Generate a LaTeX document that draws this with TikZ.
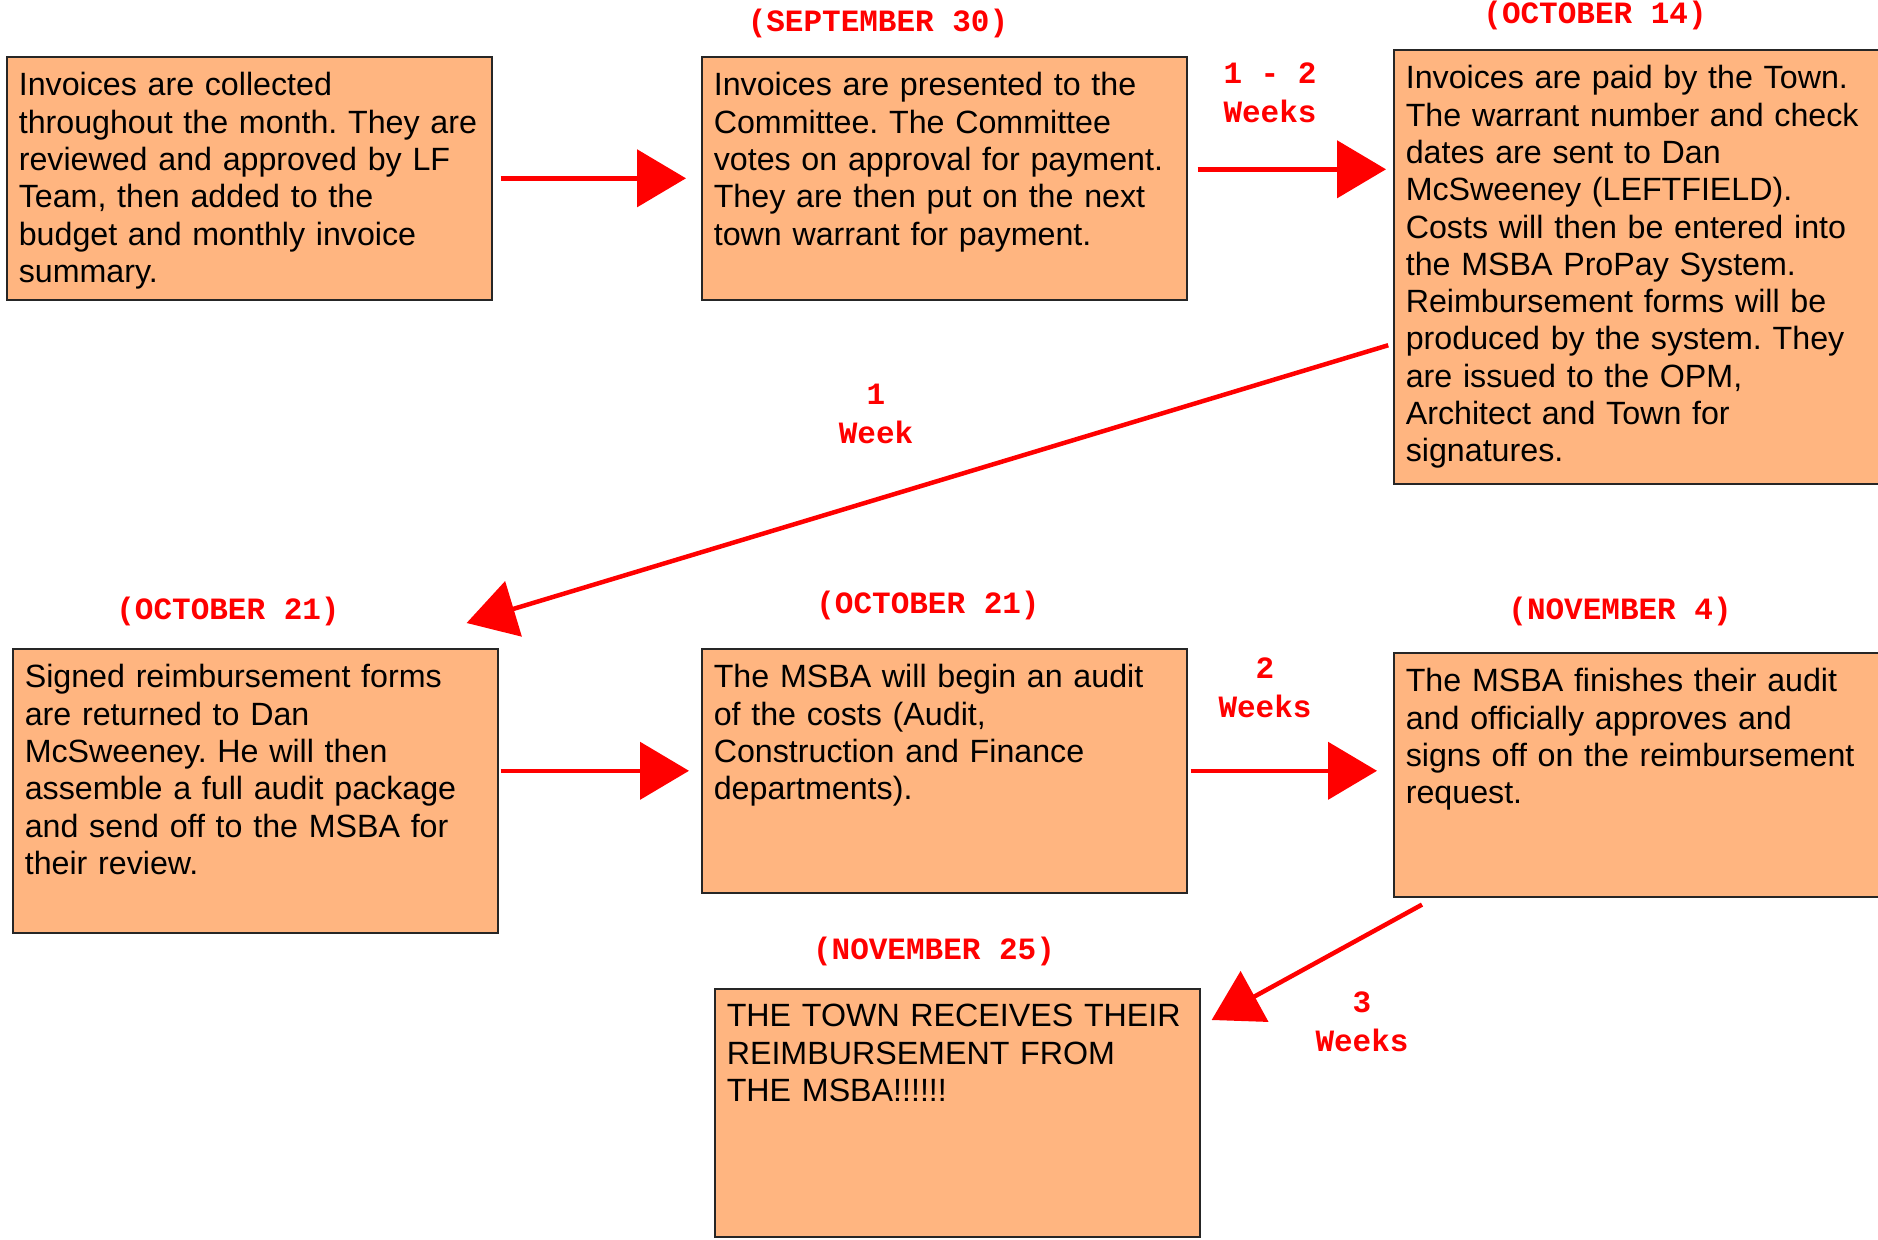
\documentclass[tikz,border=0pt]{standalone}
\usepackage{fontspec}
\setmainfont{Liberation Sans}
\setmonofont{Liberation Mono}
\usetikzlibrary{arrows.meta, positioning}
\definecolor{boxfill}{RGB}{255,181,128}
\newcommand{\boxfont}{\fontsize{32.2}{37.3}\selectfont}
\newcommand{\datefont}{\fontsize{31}{39}\selectfont\ttfamily\bfseries}
\tikzstyle{block}=[rectangle, draw=black!85, line width=1.6pt,
    fill=boxfill, anchor=north west, inner xsep=12pt, inner ysep=0pt,
    text width=461pt, align=left, font=\boxfont, text height=39pt]
\tikzstyle{datelabel}=[text=red, font=\datefont, align=center, inner sep=0pt]
\tikzstyle{line}=[draw, red, line width=4.5pt, -{Triangle[length=49pt,width=57pt]}]
\frenchspacing

\begin{document}
\begin{tikzpicture}[x=1pt, y=-1pt]
    \useasboundingbox (0,0) rectangle (1878,1239);

    % steps
    \node [block, text depth=204pt] (collect) at (6,56)
      {Invoices are collected\\throughout the month. They are\\reviewed and approved by LF\\Team, then added to the\\budget and monthly invoice\\summary.};
    \node [block, text depth=204pt] (present) at (701,56)
      {Invoices are presented to the\\Committee. The Committee\\votes on approval for payment.\\They are then put on the next\\town warrant for payment.};
    \node [block, text depth=395pt] (paid) at (1393,49)
      {Invoices are paid by the Town.\\The warrant number and check\\dates are sent to Dan\\McSweeney (LEFTFIELD).\\Costs will then be entered into\\the MSBA ProPay System.\\Reimbursement forms will be\\produced by the system. They\\are issued to the OPM,\\Architect and Town for\\signatures.};
    \node [block, text depth=245pt] (signed) at (12,648)
      {Signed reimbursement forms\\are returned to Dan\\McSweeney. He will then\\assemble a full audit package\\and send off to the MSBA for\\their review.};
    \node [block, text depth=205pt] (audit) at (701,648)
      {The MSBA will begin an audit\\of the costs (Audit,\\Construction and Finance\\departments).};
    \node [block, text depth=205pt] (approve) at (1393,652)
      {The MSBA finishes their audit\\and officially approves and\\signs off on the reimbursement\\request.};
    \node [block, text height=38pt, text depth=210pt] (receive) at (714,988)
      {THE TOWN RECEIVES THEIR\\REIMBURSEMENT FROM\\THE MSBA!!!!!!};

    % dates and durations
    \node [datelabel] (sept30) at (878,23) {(SEPTEMBER 30)};
    \node [datelabel] (oct14) at (1595,15) {(OCTOBER 14)};
    \node [datelabel] (oct21a) at (228,611) {(OCTOBER 21)};
    \node [datelabel] (oct21b) at (928,605) {(OCTOBER 21)};
    \node [datelabel] (nov4) at (1620,611) {(NOVEMBER 4)};
    \node [datelabel] (nov25) at (934,951) {(NOVEMBER 25)};
    \node [datelabel] (wk12) at (1270,93) {1 - 2\\Weeks};
    \node [datelabel] (wk1) at (876,414) {1\\Week};
    \node [datelabel] (wk2) at (1265,688) {2\\Weeks};
    \node [datelabel] (wk3) at (1362,1022) {3\\Weeks};

    \begin{scope}[every path/.style=line]
      \path [shorten <=8pt, shorten >=15pt] (collect.east) -- (present.west);
      \path [shorten <=10pt, shorten >=7pt] ([yshift=9pt]present.east) -- ([yshift=9pt]present.east -| paid.west);
      \path [shorten <=5pt] ([yshift=-77pt]paid.west) -- ([xshift=-32pt,yshift=25pt]signed.north east);
      \path [shorten <=2pt, shorten >=12pt] (signed.east |- audit.west) -- (audit.west);
      \path [shorten <=3pt, shorten >=16pt] (audit.east) -- (audit.east -| approve.west);
      \path ([xshift=29pt,yshift=-7pt]approve.south west) -- ([xshift=11pt,yshift=-32pt]receive.north east);
    \end{scope}
\end{tikzpicture}
\end{document}
